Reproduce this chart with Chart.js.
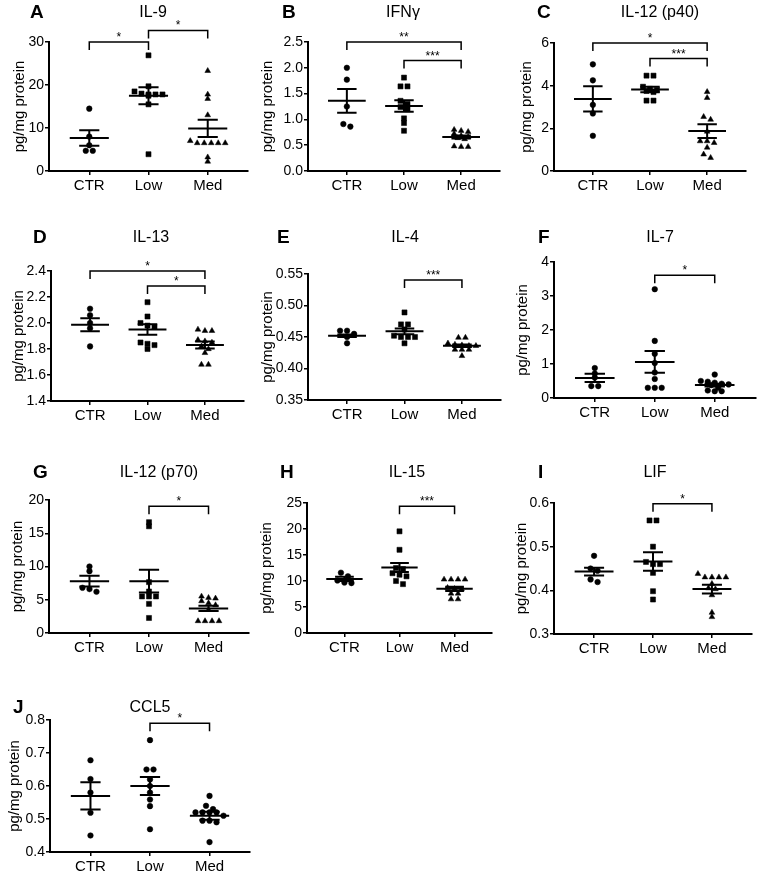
<!DOCTYPE html>
<html>
<head>
<meta charset="utf-8">
<script src="https://cdn.jsdelivr.net/npm/chart.js@4"></script>
<style>
  html, body { margin: 0; padding: 0; background: #fff; }
  #wrap { position: relative; width: 760px; height: 875px; }
  #wrap canvas { position: absolute; left: 0; top: 0; }
</style>
</head>
<body>
<div id="wrap"></div>
<script>
// --- data ---
const groups = ['CTR', 'Low', 'Med'];
const panelLetters = ['A', 'B', 'C', 'D', 'E', 'F', 'G', 'H', 'I', 'J'];
const panelTitles = ['IL-9', 'IFNγ', 'IL-12 (p40)', 'IL-13', 'IL-4', 'IL-7', 'IL-12 (p70)', 'IL-15', 'LIF', 'CCL5'];
const yAxisLabel = 'pg/mg protein';

const yTickLabels = [
  ['0', '10', '20', '30'],
  ['0.0', '0.5', '1.0', '1.5', '2.0', '2.5'],
  ['0', '2', '4', '6'],
  ['1.4', '1.6', '1.8', '2.0', '2.2', '2.4'],
  ['0.35', '0.40', '0.45', '0.50', '0.55'],
  ['0', '1', '2', '3', '4'],
  ['0', '5', '10', '15', '20'],
  ['0', '5', '10', '15', '20', '25'],
  ['0.3', '0.4', '0.5', '0.6'],
  ['0.4', '0.5', '0.6', '0.7', '0.8']
];

const ctrValues = [
  [14.5, 8.0, 6.0, 4.7, 4.7],
  [2.0, 1.77, 1.25, 0.91, 0.86],
  [5.0, 4.25, 3.1, 2.7, 1.65],
  [2.11, 2.06, 2.0, 1.96, 1.82],
  [0.46, 0.46, 0.455, 0.45, 0.44],
  [0.88, 0.72, 0.6, 0.35, 0.35],
  [10.0, 9.3, 6.8, 6.6, 6.2],
  [11.6, 10.9, 10.1, 9.6, 9.7],
  [0.479, 0.45, 0.445, 0.425, 0.419],
  [0.678, 0.621, 0.58, 0.519, 0.45]
];

const lowValues = [
  [26.9, 19.7, 18.5, 18.0, 17.8, 17.8, 17.8, 17.5, 15.5, 3.9],
  [1.81, 1.64, 1.64, 1.36, 1.3, 1.24, 1.2, 1.02, 0.93, 0.78],
  [4.47, 4.47, 3.95, 3.85, 3.8, 3.75, 3.7, 3.3, 3.3],
  [2.16, 2.05, 2.0, 1.98, 1.97, 1.85, 1.84, 1.83, 1.80],
  [0.489, 0.47, 0.47, 0.462, 0.452, 0.45, 0.45, 0.45, 0.44],
  [3.2, 1.68, 1.3, 1.03, 0.75, 0.56, 0.3, 0.3, 0.3],
  [16.66, 16.05, 7.65, 6.24, 5.5, 5.5, 5.5, 4.38, 2.26],
  [19.55, 16.0, 12.5, 12.3, 11.5, 11.2, 10.9, 10.0, 9.4],
  [0.56, 0.56, 0.5, 0.465, 0.46, 0.46, 0.44, 0.398, 0.379],
  [0.739, 0.65, 0.65, 0.62, 0.6, 0.58, 0.559, 0.539, 0.469]
];

const medValues = [
  [23.3, 17.8, 16.8, 13.0, 7.0, 6.5, 6.5, 6.5, 6.5, 6.5, 3.2, 2.2],
  [0.8, 0.78, 0.76, 0.72, 0.68, 0.66, 0.64, 0.62, 0.48, 0.47, 0.47],
  [3.71, 3.43, 2.54, 2.41, 1.85, 1.4, 1.4, 1.32, 1.1, 0.78, 0.62],
  [1.95, 1.94, 1.94, 1.87, 1.86, 1.85, 1.82, 1.80, 1.77, 1.68, 1.68],
  [0.449, 0.449, 0.44, 0.438, 0.437, 0.436, 0.436, 0.43, 0.43, 0.43, 0.42],
  [0.69, 0.5, 0.48, 0.45, 0.42, 0.4, 0.38, 0.3, 0.22, 0.2, 0.2],
  [5.5, 5.3, 5.2, 4.8, 4.5, 4.2, 3.5, 1.8, 1.8, 1.8, 1.8],
  [10.3, 10.3, 10.3, 10.3, 8.7, 8.5, 8.4, 7.6, 7.6, 6.5, 6.5],
  [0.438, 0.43, 0.43, 0.43, 0.43, 0.415, 0.405, 0.403, 0.389, 0.349, 0.339],
  [0.57, 0.54, 0.53, 0.52, 0.52, 0.52, 0.52, 0.51, 0.495, 0.495, 0.49, 0.43]
];

// mean and SEM per group (CTR, Low, Med) as drawn
const groupMeans = [
  [7.7, 17.5, 9.9],
  [1.36, 1.26, 0.66],
  [3.38, 3.82, 1.87],
  [1.986, 1.95, 1.83],
  [0.452, 0.459, 0.436],
  [0.59, 1.06, 0.38],
  [7.8, 7.8, 3.7],
  [10.4, 12.6, 8.5],
  [0.443, 0.466, 0.403],
  [0.57, 0.6, 0.51]
];
const groupSems = [
  [1.8, 2.0, 2.0],
  [0.23, 0.11, 0.03],
  [0.59, 0.13, 0.32],
  [0.05, 0.04, 0.027],
  [0.002, 0.0045, 0.002],
  [0.12, 0.32, 0.04],
  [0.8, 1.7, 0.4],
  [0.4, 0.85, 0.4],
  [0.009, 0.021, 0.01],
  [0.041, 0.027, 0.012]
];

// significance brackets: from group, to group, height (data units), label
const sigBrackets = [
  [{ from: 0, to: 1, y: 30, label: '*' }, { from: 1, to: 2, y: 32.7, label: '*' }],
  [{ from: 0, to: 2, y: 2.5, label: '**' }, { from: 1, to: 2, y: 2.14, label: '***' }],
  [{ from: 0, to: 2, y: 6.0, label: '*' }, { from: 1, to: 2, y: 5.27, label: '***' }],
  [{ from: 0, to: 2, y: 2.4, label: '*' }, { from: 1, to: 2, y: 2.285, label: '*' }],
  [{ from: 1, to: 2, y: 0.5405, label: '***' }],
  [{ from: 1, to: 2, y: 3.61, label: '*' }],
  [{ from: 1, to: 2, y: 19.07, label: '*' }],
  [{ from: 1, to: 2, y: 24.36, label: '***' }],
  [{ from: 1, to: 2, y: 0.598, label: '*' }],
  [{ from: 1, to: 2, y: 0.79, label: '*' }]
];

// panels where every group is drawn with circles
const circleOnly = [5, 9];

// --- layout (page pixels) ---
const boxes = [
  { L: 49,  R: 248, T: 42,  B: 171, yt: 20,  lx: 30,  tx: 153, ty: 13 },
  { L: 308, R: 500, T: 42,  B: 171, yt: 268, lx: 282, tx: 403, ty: 13 },
  { L: 554, R: 746, T: 43,  B: 171, yt: 527, lx: 537, tx: 660, ty: 13 },
  { L: 51,  R: 244, T: 271, B: 401, yt: 19,  lx: 33,  tx: 151, ty: 238 },
  { L: 308, R: 501, T: 274, B: 400, yt: 268, lx: 277, tx: 405, ty: 238 },
  { L: 554, R: 757, T: 262, B: 398, yt: 523, lx: 538, tx: 660, ty: 238 },
  { L: 49,  R: 249, T: 500, B: 633, yt: 18,  lx: 33,  tx: 159, ty: 473 },
  { L: 307, R: 492, T: 503, B: 633, yt: 267, lx: 280, tx: 407, ty: 473 },
  { L: 554, R: 752, T: 503, B: 634, yt: 522, lx: 538, tx: 655, ty: 473 },
  { L: 50,  R: 250, T: 720, B: 852, yt: 15,  lx: 13,  tx: 150, ty: 708 }
];

const X_MIN = -0.68, X_MAX = 2.68;
const FONT = "'Liberation Sans', Arial, Helvetica, sans-serif";
Chart.defaults.font.family = FONT;
Chart.defaults.color = '#000';

// spread points with (nearly) equal values side by side, GraphPad style
function swarm(vals, pxPerUnit, unitPx) {
  const order = vals.map((v, i) => i).sort((a, b) => vals[b] - vals[a]);
  const offs = new Array(vals.length).fill(0);
  const gap = 7;
  let row = [];
  let startPy = 0;
  const flush = () => {
    row.forEach((j, k) => { offs[j] = (k - (row.length - 1) / 2) * gap / unitPx; });
    row = [];
  };
  order.forEach(j => {
    const py = vals[j] * pxPerUnit;
    if (row.length && startPy - py > 4) flush();
    if (!row.length) startPy = py;
    row.push(j);
  });
  flush();
  return offs;
}

function decoPlugin(p) {
  return {
    id: 'deco' + p,
    afterDatasetsDraw(chart) {
      const { ctx } = chart;
      const x = chart.scales.x, y = chart.scales.y;
      ctx.save();
      ctx.strokeStyle = '#000';
      ctx.fillStyle = '#000';

      // mean +/- SEM
      ctx.lineWidth = 2;
      groups.forEach((g, i) => {
        const m = groupMeans[p][i], s = groupSems[p][i];
        const yM = y.getPixelForValue(m);
        const yT = y.getPixelForValue(m + s);
        const yB = y.getPixelForValue(m - s);
        ctx.beginPath();
        ctx.moveTo(x.getPixelForValue(i - 0.33), yM);
        ctx.lineTo(x.getPixelForValue(i + 0.33), yM);
        ctx.moveTo(x.getPixelForValue(i - 0.17), yT);
        ctx.lineTo(x.getPixelForValue(i + 0.17), yT);
        ctx.moveTo(x.getPixelForValue(i - 0.17), yB);
        ctx.lineTo(x.getPixelForValue(i + 0.17), yB);
        ctx.moveTo(x.getPixelForValue(i), yT);
        ctx.lineTo(x.getPixelForValue(i), yB);
        ctx.stroke();
      });

      // significance brackets
      ctx.lineWidth = 1.5;
      ctx.font = '12px ' + FONT;
      ctx.textAlign = 'center';
      ctx.textBaseline = 'alphabetic';
      sigBrackets[p].forEach(b => {
        const x1 = x.getPixelForValue(b.from), x2 = x.getPixelForValue(b.to);
        const yy = y.getPixelForValue(b.y);
        ctx.beginPath();
        ctx.moveTo(x1, yy + 8);
        ctx.lineTo(x1, yy);
        ctx.lineTo(x2, yy);
        ctx.lineTo(x2, yy + 8);
        ctx.stroke();
        ctx.fillText(b.label, (x1 + x2) / 2, yy - 1);
      });

      // panel letter and title
      const bx = boxes[p];
      ctx.textBaseline = 'middle';
      ctx.textAlign = 'left';
      ctx.font = 'bold 19px ' + FONT;
      ctx.fillText(panelLetters[p], bx.lx, bx.ty);
      ctx.textAlign = 'center';
      ctx.font = '16px ' + FONT;
      ctx.fillText(panelTitles[p], bx.tx, bx.ty);
      ctx.restore();
    }
  };
}

const wrap = document.getElementById('wrap');

panelTitles.forEach((title, p) => {
  const bx = boxes[p];
  const tickVals = yTickLabels[p].map(Number);
  const yMin = tickVals[0], yMax = tickVals[tickVals.length - 1];
  const pxPerUnit = (bx.B - bx.T) / (yMax - yMin);
  const unitPx = (bx.R - bx.L) / (X_MAX - X_MIN);
  const series = [ctrValues[p], lowValues[p], medValues[p]];
  const styles = circleOnly.includes(p)
    ? [['circle', 2.8], ['circle', 2.8], ['circle', 2.8]]
    : [['circle', 2.8], ['rect', 3.6], ['triangle', 3.3]];

  const datasets = series.map((vals, i) => {
    const offs = swarm(vals, pxPerUnit, unitPx);
    return {
      label: groups[i],
      data: vals.map((v, k) => ({ x: i + offs[k], y: v })),
      pointStyle: styles[i][0],
      pointRadius: styles[i][1],
      backgroundColor: '#000',
      borderColor: '#000',
      borderWidth: 0.5,
      clip: false
    };
  });

  const canvas = document.createElement('canvas');
  canvas.width = 760;
  canvas.height = 875;
  wrap.appendChild(canvas);

  const scaleLeft = bx.yt - 13;
  const xH = 26;

  new Chart(canvas.getContext('2d'), {
    type: 'scatter',
    data: { datasets },
    options: {
      responsive: false,
      animation: false,
      events: [],
      layout: {
        padding: { left: scaleLeft, top: bx.T, right: 760 - bx.R, bottom: 875 - bx.B - xH }
      },
      plugins: { legend: { display: false }, tooltip: { enabled: false } },
      scales: {
        x: {
          type: 'linear',
          min: X_MIN,
          max: X_MAX,
          afterBuildTicks: s => { s.ticks = groups.map((g, i) => ({ value: i })); },
          afterFit: s => { s.height = xH; },
          ticks: {
            callback: (v, i) => groups[i],
            font: { size: 15 },
            color: '#000',
            padding: 2,
            maxRotation: 0,
            autoSkip: false
          },
          grid: { drawOnChartArea: false, drawTicks: true, tickLength: 4, color: '#000', lineWidth: 1.5 },
          border: { display: true, color: '#000', width: 2 }
        },
        y: {
          type: 'linear',
          min: yMin,
          max: yMax,
          afterBuildTicks: s => { s.ticks = tickVals.map(v => ({ value: v })); },
          afterFit: s => { s.width = bx.L - scaleLeft; },
          ticks: {
            callback: (v, i) => yTickLabels[p][i],
            font: { size: 14 },
            color: '#000',
            padding: 1,
            autoSkip: false
          },
          title: {
            display: true,
            text: yAxisLabel,
            font: { size: 15 },
            color: '#000',
            padding: { top: 4, bottom: 4 }
          },
          grid: { drawOnChartArea: false, drawTicks: true, tickLength: 4, color: '#000', lineWidth: 1.5 },
          border: { display: true, color: '#000', width: 2 }
        }
      }
    },
    plugins: [decoPlugin(p)]
  });
});
</script>
</body>
</html>
